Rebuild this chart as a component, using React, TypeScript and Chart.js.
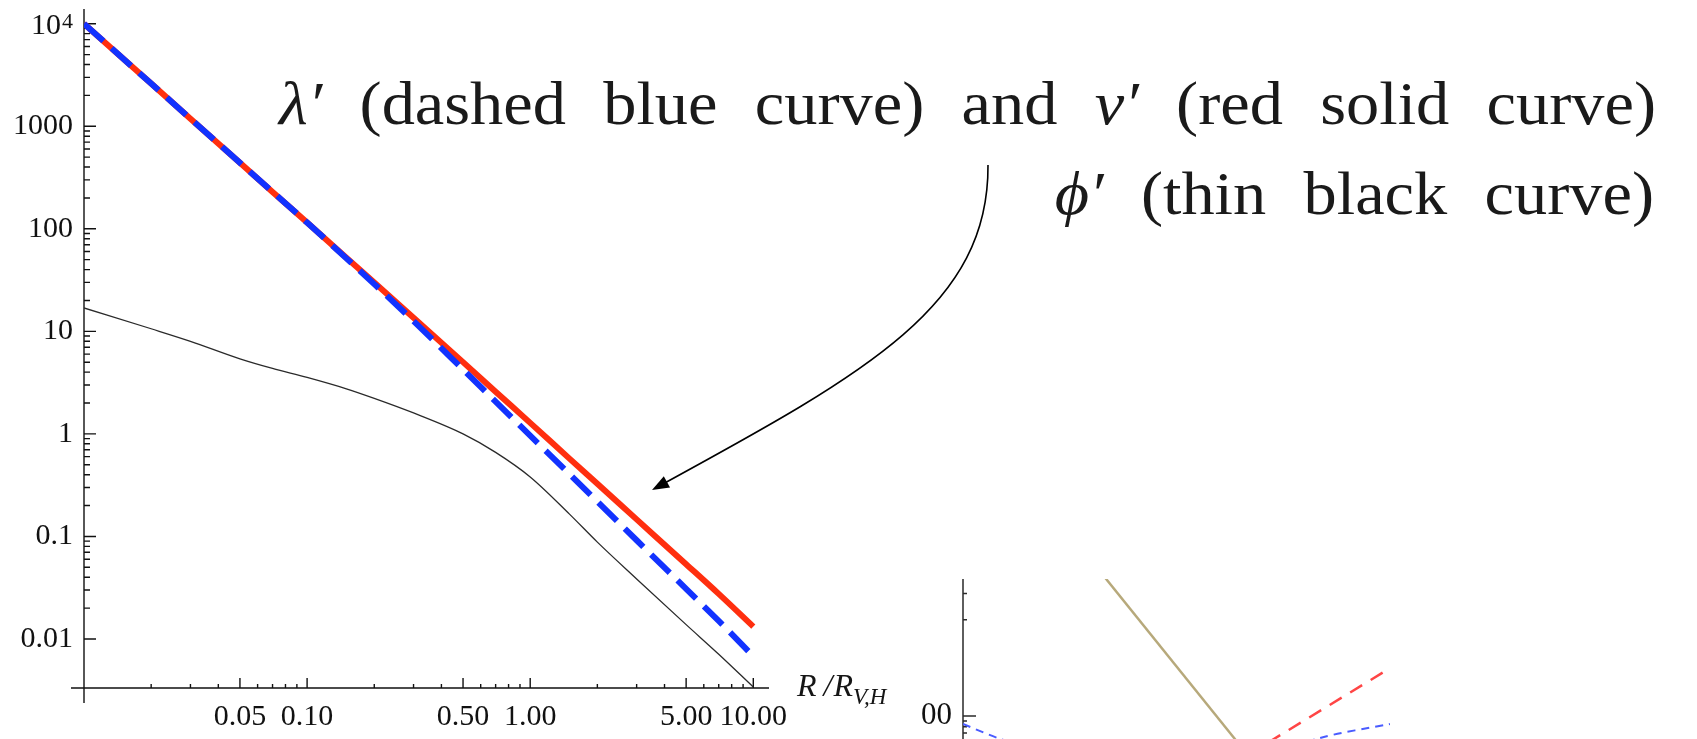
import React, { useEffect, useRef } from 'react';
import { Chart, registerables } from 'chart.js';

Chart.register(...registerables);

const W = 1697;
const H = 739;
const SERIF = '"Liberation Serif", "Times New Roman", serif';

// Radial coordinate R / R_{V,H}
const radius = [0.01, 0.02, 0.03, 0.05, 0.07, 0.1, 0.15, 0.2, 0.3, 0.5, 0.7, 1, 1.5, 2, 3, 5, 7, 10];
// λ′ (dashed blue)
const lambdaPrime = [10000, 2606, 1186, 440, 229, 115, 51.5, 28.9, 12.6, 4.24, 2.06, 0.962, 0.405, 0.219, 0.0918, 0.0308, 0.015, 0.0068];
// ν′ (red solid)
const nuPrime = [10000, 2606, 1186, 440, 229, 115, 52.1, 29.9, 13.6, 5.01, 2.58, 1.28, 0.574, 0.326, 0.1466, 0.0536, 0.0275, 0.0132];
// ϕ′ (thin black)
const phiPrime = [16.9, 10.6, 8.0, 5.4, 4.35, 3.55, 2.75, 2.22, 1.6, 1.0, 0.66, 0.38, 0.165, 0.088, 0.0385, 0.0138, 0.0071, 0.0034];

const xTickValues = [0.05, 0.1, 0.5, 1, 5, 10];
const xTickLabels = ['0.05', '0.10', '0.50', '1.00', '5.00', '10.00'];
const yTickValues = [0.01, 0.1, 1, 10, 100, 1000, 10000];
const yTickLabels = ['0.01', '0.1', '1', '10', '100', '1000', ''];
const yTopLabelBase = '10';
const yTopLabelExp = '4';

const X_MIN = 0.01;
const X_MAX = 11.76;
const Y_MIN = 0.003326;
const Y_MAX = 13914;

// Partial neighbouring panel (lower right)
const insetTanX = [0.268, 0.597];
const insetTanY = [2618, 44.2];
const insetRedX = [0.597, 0.889];
const insetRedY = [44.2, 262];
const insetBlueX = [0, 0.078, 0.4, 0.748, 0.895];
const insetBlueY = [84.6, 61.8, 21.2, 63, 84.6];
const insetMajorTicks = [100];
const insetMajorLabels = ['100'];
const insetMinorTicks = [60, 70, 80, 90, 750, 1300];

const toPoints = (xs: number[], ys: number[]) => xs.map((x, i) => ({ x, y: ys[i] }));

function minorLogTicks(lo: number, hi: number, majors: number[]) {
  const out: number[] = [];
  for (let e = -3; e <= 5; e++) {
    for (let m = 1; m <= 9; m++) {
      const v = +(m * Math.pow(10, e)).toPrecision(6);
      if (v > lo * 1.0001 && v <= hi && !majors.some((M) => Math.abs(M - v) / M < 1e-6)) out.push(v);
    }
  }
  return out;
}

const labelFrom = (values: number[], labels: string[]) => (v: number) => {
  const i = values.findIndex((t) => Math.abs(t - v) / t < 1e-6);
  return i >= 0 ? labels[i] : '';
};

type Word = { text: string; font: string };

const GLYPH_STRETCH = 1.07;

function wordWidth(ctx: CanvasRenderingContext2D, w: Word) {
  ctx.font = w.font;
  return ctx.measureText(w.text).width * GLYPH_STRETCH;
}

function drawWords(ctx: CanvasRenderingContext2D, words: Word[], left: number, baseline: number, gap: number) {
  let x = left;
  words.forEach((w) => {
    ctx.save();
    ctx.font = w.font;
    ctx.translate(x, baseline);
    ctx.scale(GLYPH_STRETCH, 1);
    ctx.fillText(w.text, 0, 0);
    ctx.restore();
    x += wordWidth(ctx, w) + gap;
  });
}

const mainAxesPlugin = {
  id: 'mainAxes',
  beforeDatasetsDraw(chart: any) {
    const { ctx, chartArea } = chart;
    const xs = chart.scales.x;
    const ys = chart.scales.y;
    const x0 = xs.getPixelForValue(X_MIN);
    const y0 = ys.getPixelForValue(Y_MIN);
    ctx.save();
    ctx.strokeStyle = '#111';
    ctx.lineWidth = 1.4;
    ctx.beginPath();
    ctx.moveTo(x0, chartArea.top);
    ctx.lineTo(x0, y0 + 15);
    ctx.moveTo(x0 - 13, y0);
    ctx.lineTo(chartArea.right, y0);
    yTickValues.forEach((v) => {
      const p = ys.getPixelForValue(v);
      ctx.moveTo(x0, p);
      ctx.lineTo(x0 + 12, p);
    });
    minorLogTicks(0.01, Y_MAX, yTickValues).forEach((v) => {
      const p = ys.getPixelForValue(v);
      ctx.moveTo(x0, p);
      ctx.lineTo(x0 + 6, p);
    });
    xTickValues.forEach((v) => {
      const p = xs.getPixelForValue(v);
      ctx.moveTo(p, y0);
      ctx.lineTo(p, y0 - 10);
    });
    minorLogTicks(0.01, X_MAX, xTickValues).forEach((v) => {
      const p = xs.getPixelForValue(v);
      ctx.moveTo(p, y0);
      ctx.lineTo(p, y0 - 4);
    });
    ctx.stroke();
    ctx.restore();
  },
  afterDraw(chart: any) {
    const { ctx } = chart;
    const xs = chart.scales.x;
    const ys = chart.scales.y;
    const x0 = xs.getPixelForValue(X_MIN);
    ctx.save();
    ctx.fillStyle = '#111';
    ctx.textBaseline = 'alphabetic';

    // top tick label 10^4
    const pTop = ys.getPixelForValue(yTickValues[yTickValues.length - 1]);
    ctx.font = `22px ${SERIF}`;
    const expW = ctx.measureText(yTopLabelExp).width;
    ctx.fillText(yTopLabelExp, x0 - 11 - expW, pTop + 4);
    ctx.font = `30px ${SERIF}`;
    const baseW = ctx.measureText(yTopLabelBase).width;
    ctx.fillText(yTopLabelBase, x0 - 11 - expW - 1 - baseW, pTop + 10);

    // axis label R / R_{V,H}
    ctx.fillStyle = '#151515';
    const axisY = ys.getPixelForValue(Y_MIN);
    let lx = xs.getPixelForValue(X_MAX) + 28;
    ctx.font = `italic 32px ${SERIF}`;
    ctx.fillText('R', lx, axisY + 8);
    lx += ctx.measureText('R').width + 7;
    ctx.fillText('/', lx, axisY + 8);
    lx += ctx.measureText('/').width + 1;
    ctx.fillText('R', lx, axisY + 8);
    lx += ctx.measureText('R').width;
    ctx.font = `italic 23px ${SERIF}`;
    ctx.fillText('V,H', lx, axisY + 16);

    // annotation text
    ctx.fillStyle = '#1a1a1a';
    const rm = `62px ${SERIF}`;
    const it = `italic 62px ${SERIF}`;
    const line1: Word[] = [
      { text: 'λ′', font: it },
      { text: '(dashed', font: rm },
      { text: 'blue', font: rm },
      { text: 'curve)', font: rm },
      { text: 'and', font: rm },
      { text: 'ν′', font: it },
      { text: '(red', font: rm },
      { text: 'solid', font: rm },
      { text: 'curve)', font: rm },
    ];
    const line2: Word[] = [
      { text: 'ϕ′', font: it },
      { text: '(thin', font: rm },
      { text: 'black', font: rm },
      { text: 'curve)', font: rm },
    ];
    const left1 = 279;
    const right1 = 1656;
    const w1 = line1.reduce((s, w) => s + wordWidth(ctx, w), 0);
    const gap = (right1 - left1 - w1) / (line1.length - 1);
    drawWords(ctx, line1, left1, 124, gap);
    const w2 = line2.reduce((s, w) => s + wordWidth(ctx, w), 0) + gap * (line2.length - 1);
    drawWords(ctx, line2, 1654 - w2, 214, gap);

    // curved pointer
    const P0 = [988, 165];
    const C1 = [989, 305];
    const C2 = [868, 372];
    const TIP = [652, 490];
    let dx = TIP[0] - C2[0];
    let dy = TIP[1] - C2[1];
    const len = Math.hypot(dx, dy);
    dx /= len;
    dy /= len;
    const headLen = 17;
    const headHalf = 6.5;
    const bx = TIP[0] - dx * headLen;
    const by = TIP[1] - dy * headLen;
    ctx.strokeStyle = '#000';
    ctx.lineWidth = 1.6;
    ctx.beginPath();
    ctx.moveTo(P0[0], P0[1]);
    ctx.bezierCurveTo(C1[0], C1[1], C2[0], C2[1], bx + dx * 3, by + dy * 3);
    ctx.stroke();
    ctx.fillStyle = '#000';
    ctx.beginPath();
    ctx.moveTo(TIP[0], TIP[1]);
    ctx.lineTo(bx - dy * headHalf, by + dx * headHalf);
    ctx.lineTo(bx + dy * headHalf, by - dx * headHalf);
    ctx.closePath();
    ctx.fill();
    ctx.restore();
  },
};

function MainChart() {
  const ref = useRef<HTMLCanvasElement>(null);
  useEffect(() => {
    const canvas = ref.current;
    if (!canvas) return;
    const chart = new Chart(canvas, {
      type: 'line',
      data: {
        datasets: [
          {
            label: 'λ′',
            data: toPoints(radius, lambdaPrime),
            borderColor: '#1232ff',
            borderWidth: 6,
            borderDash: [26, 11],
            borderCapStyle: 'butt',
            pointRadius: 0,
            cubicInterpolationMode: 'monotone',
          },
          {
            label: 'ν′',
            data: toPoints(radius, nuPrime),
            borderColor: '#ff2f0f',
            borderWidth: 6,
            pointRadius: 0,
            cubicInterpolationMode: 'monotone',
          },
          {
            label: 'ϕ′',
            data: toPoints(radius, phiPrime),
            borderColor: '#2a2a2a',
            borderWidth: 1.3,
            pointRadius: 0,
            cubicInterpolationMode: 'monotone',
          },
        ],
      },
      options: {
        animation: false,
        responsive: false,
        devicePixelRatio: 1,
        layout: { padding: { left: 0, top: 9, right: W - 769, bottom: 0 } },
        plugins: { legend: { display: false }, tooltip: { enabled: false } },
        scales: {
          x: {
            type: 'logarithmic',
            min: X_MIN,
            max: X_MAX,
            grid: { display: false, drawTicks: false },
            border: { display: false },
            ticks: {
              autoSkip: false,
              maxRotation: 0,
              padding: 11,
              color: '#111',
              font: { family: SERIF, size: 30 },
              callback: (v: any) => labelFrom(xTickValues, xTickLabels)(Number(v)),
            },
            afterBuildTicks: (s: any) => {
              s.ticks = xTickValues.map((value) => ({ value }));
            },
            afterFit: (s: any) => {
              s.height = 51;
              s.paddingLeft = 0;
              s.paddingRight = 0;
            },
          },
          y: {
            type: 'logarithmic',
            min: Y_MIN,
            max: Y_MAX,
            grid: { display: false, drawTicks: false },
            border: { display: false },
            ticks: {
              autoSkip: false,
              padding: 11,
              color: '#111',
              font: { family: SERIF, size: 30 },
              callback: (v: any) => labelFrom(yTickValues, yTickLabels)(Number(v)),
            },
            afterBuildTicks: (s: any) => {
              s.ticks = yTickValues.map((value) => ({ value }));
            },
            afterFit: (s: any) => {
              s.width = 84;
              s.paddingTop = 0;
              s.paddingBottom = 0;
            },
          },
        },
      } as any,
      plugins: [mainAxesPlugin],
    });
    return () => chart.destroy();
  }, []);
  return (
    <canvas
      ref={ref}
      width={W}
      height={H}
      style={{ position: 'absolute', left: 0, top: 0, width: W, height: H }}
    />
  );
}

const INSET_W = 520;
const INSET_H = 300;

const insetAxesPlugin = {
  id: 'insetAxes',
  beforeDatasetsDraw(chart: any) {
    const { ctx, chartArea } = chart;
    const ys = chart.scales.y;
    const x0 = chartArea.left;
    ctx.save();
    ctx.strokeStyle = '#2a2a2a';
    ctx.lineWidth = 1.5;
    ctx.beginPath();
    ctx.moveTo(x0, chartArea.top);
    ctx.lineTo(x0, INSET_H);
    insetMajorTicks.forEach((v) => {
      const p = ys.getPixelForValue(v);
      ctx.moveTo(x0, p);
      ctx.lineTo(x0 + 13, p);
    });
    insetMinorTicks.forEach((v) => {
      const p = ys.getPixelForValue(v);
      ctx.moveTo(x0, p);
      ctx.lineTo(x0 + 4, p);
    });
    ctx.stroke();
    ctx.restore();
  },
};

function InsetChart() {
  const ref = useRef<HTMLCanvasElement>(null);
  useEffect(() => {
    const canvas = ref.current;
    if (!canvas) return;
    const chart = new Chart(canvas, {
      type: 'line',
      data: {
        datasets: [
          {
            data: toPoints(insetBlueX, insetBlueY),
            borderColor: '#4a5cff',
            borderWidth: 2,
            borderDash: [8, 6],
            pointRadius: 0,
            tension: 0.3,
          },
          {
            data: toPoints(insetRedX, insetRedY),
            borderColor: '#ff4545',
            borderWidth: 2.5,
            borderDash: [14, 10],
            pointRadius: 0,
          },
          {
            data: toPoints(insetTanX, insetTanY),
            borderColor: '#b7a97b',
            borderWidth: 2.5,
            pointRadius: 0,
          },
        ],
      },
      options: {
        animation: false,
        responsive: false,
        devicePixelRatio: 1,
        layout: { padding: { left: 0, top: 9, right: 0, bottom: 20 } },
        plugins: { legend: { display: false }, tooltip: { enabled: false } },
        scales: {
          x: { type: 'linear', min: 0, max: 1, display: false },
          y: {
            type: 'logarithmic',
            min: 6.05,
            max: 1758,
            grid: { display: false, drawTicks: false },
            border: { display: false },
            ticks: {
              autoSkip: false,
              padding: 11,
              color: '#111',
              font: { family: SERIF, size: 31 },
              callback: (v: any) => labelFrom(insetMajorTicks, insetMajorLabels)(Number(v)),
            },
            afterBuildTicks: (s: any) => {
              s.ticks = insetMajorTicks.map((value) => ({ value }));
            },
            afterFit: (s: any) => {
              s.width = 43;
              s.paddingTop = 0;
              s.paddingBottom = 0;
            },
          },
        },
      } as any,
      plugins: [insetAxesPlugin],
    });
    return () => chart.destroy();
  }, []);
  return (
    <canvas
      ref={ref}
      width={INSET_W}
      height={INSET_H}
      style={{ position: 'absolute', left: 920, top: 570, width: INSET_W, height: INSET_H }}
    />
  );
}

export default function App() {
  return (
    <div
      style={{
        position: 'fixed',
        left: 0,
        top: 0,
        width: W,
        height: H,
        overflow: 'hidden',
        background: '#fff',
      }}
    >
      <MainChart />
      <InsetChart />
    </div>
  );
}
